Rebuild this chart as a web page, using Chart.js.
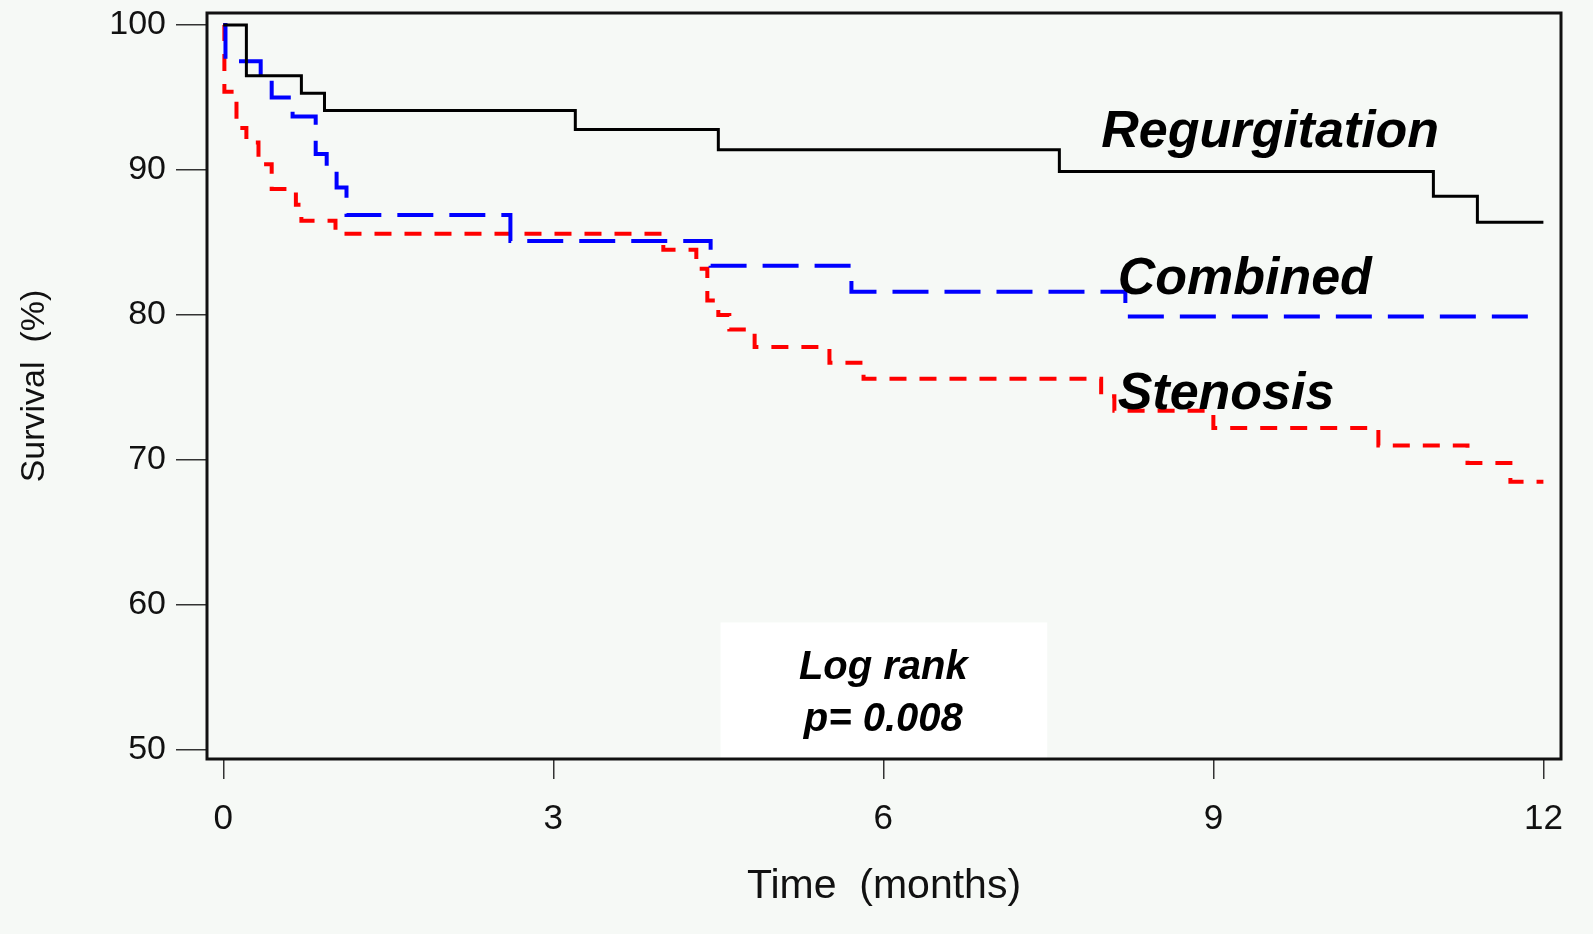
<!DOCTYPE html>
<html>
<head>
<meta charset="utf-8">
<script src="https://cdn.jsdelivr.net/npm/chart.js@4.4.1/dist/chart.umd.min.js"></script>
<style>
    html, body { margin: 0; padding: 0; background: #f6f9f6; }
    #wrap { width: 1593px; height: 934px; }
</style>
</head>
<body>
<div id="wrap"><canvas id="kmChart" width="1593" height="934"></canvas></div>
<script>
// Kaplan-Meier survival (time in months, survival in %)
const regTime = [0, 0.21, 0.71, 0.92, 3.2, 4.5, 7.6, 11.0, 11.4, 12];
const regSurv = [100, 96.5, 95.3, 94.1, 92.8, 91.4, 89.9, 88.2, 86.4, 86.4];

const combTime = [0, 0.02, 0.34, 0.44, 0.63, 0.84, 0.94, 1.03, 1.12, 2.61, 4.43, 5.71, 8.2, 12];
const combSurv = [100, 97.5, 96.3, 95.0, 93.7, 91.1, 90.0, 88.8, 86.9, 85.1, 83.4, 81.6, 79.9, 79.9];

const stenTime = [0, 0.01, 0.12, 0.21, 0.32, 0.44, 0.66, 0.71, 1.02, 4.0, 4.3, 4.4, 4.5, 4.6, 4.83, 5.51, 5.82, 7.98, 8.1, 9.0, 10.5, 11.31, 11.7, 12];
const stenSurv = [100, 95.4, 92.9, 91.9, 90.4, 88.7, 87.6, 86.5, 85.6, 84.5, 83.2, 81.0, 80.0, 79.0, 77.8, 76.7, 75.6, 74.4, 73.4, 72.2, 71.0, 69.8, 68.5, 68.5];

const xTickValues = [0, 3, 6, 9, 12];
const yTickValues = [50, 60, 70, 80, 90, 100];

const curveLabels = [
    { text: 'Regurgitation', x: 7.98, y: 91.6 },
    { text: 'Combined', x: 8.13, y: 81.45 },
    { text: 'Stenosis', x: 8.13, y: 73.5 }
];

const FONT = '"Liberation Sans", Arial, sans-serif';

function toPoints(xs, ys) {
    return xs.map((x, i) => ({ x: x, y: ys[i] }));
}

const kmPlugin = {
    id: 'kmExtras',
    beforeDraw(chart) {
        const ctx = chart.ctx;
        ctx.save();
        ctx.fillStyle = '#f6f9f6';
        ctx.fillRect(0, 0, chart.width, chart.height);
        ctx.restore();
    },
    beforeDatasetsDraw(chart) {
        const ctx = chart.ctx;
        const xs = chart.scales.x;
        const ys = chart.scales.y;
        // white box behind the log rank text
        const left = xs.getPixelForValue(4.52);
        const right = xs.getPixelForValue(7.49);
        const top = ys.getPixelForValue(58.8);
        const bottom = chart.chartArea.bottom;
        ctx.save();
        ctx.fillStyle = '#ffffff';
        ctx.fillRect(left, top, right - left, bottom - top);
        ctx.restore();
    },
    afterDatasetsDraw(chart) {
        const ctx = chart.ctx;
        const xs = chart.scales.x;
        const ys = chart.scales.y;
        const a = chart.chartArea;
        ctx.save();
        ctx.fillStyle = '#000';
        ctx.textBaseline = 'alphabetic';
        ctx.font = 'italic bold 52px ' + FONT;
        ctx.textAlign = 'left';
        curveLabels.forEach(l => {
            ctx.fillText(l.text, xs.getPixelForValue(l.x), ys.getPixelForValue(l.y));
        });
        ctx.font = 'italic bold 40px ' + FONT;
        ctx.textAlign = 'center';
        const cx = xs.getPixelForValue(6.0);
        ctx.fillText('Log rank', cx, 679);
        ctx.fillText('p= 0.008', cx, 731);

        // plot frame
        ctx.strokeStyle = '#111';
        ctx.lineWidth = 3;
        ctx.strokeRect(a.left, a.top, a.right - a.left, a.bottom - a.top);
        ctx.restore();
    }
};

const kmConfig = {
    type: 'line',
    data: {
        datasets: [{
            label: 'Regurgitation',
            data: toPoints(regTime, regSurv),
            borderColor: '#000000',
            borderWidth: 3,
            stepped: true,
            pointRadius: 0,
            fill: false
        }, {
            label: 'Combined',
            data: toPoints(combTime, combSurv),
            borderColor: '#0000ff',
            borderWidth: 4,
            borderDash: [36, 16],
            stepped: true,
            pointRadius: 0,
            fill: false
        }, {
            label: 'Stenosis',
            data: toPoints(stenTime, stenSurv),
            borderColor: '#ff0000',
            borderWidth: 4,
            borderDash: [17, 13],
            stepped: true,
            pointRadius: 0,
            fill: false
        }]
    },
    options: {
        responsive: false,
        animation: false,
        layout: {
            padding: { top: 13, right: 32, left: 0, bottom: 0 }
        },
        plugins: {
            legend: { display: false },
            tooltip: { enabled: false }
        },
        scales: {
            x: {
                type: 'linear',
                min: -0.148,
                max: 12.16,
                afterBuildTicks: scale => {
                    scale.ticks = xTickValues.map(v => ({ value: v }));
                },
                afterFit: scale => {
                    scale.height = 175;
                    scale.paddingLeft = 0;
                    scale.paddingRight = 0;
                },
                grid: {
                    drawOnChartArea: false,
                    drawTicks: true,
                    tickLength: 20,
                    color: '#333',
                    lineWidth: 1.5
                },
                border: { display: false },
                ticks: {
                    autoSkip: false,
                    maxRotation: 0,
                    padding: 19,
                    color: '#111',
                    font: { size: 35, family: FONT }
                },
                title: {
                    display: true,
                    text: 'Time  (months)',
                    color: '#111',
                    font: { size: 41, family: FONT },
                    padding: { top: 0, bottom: 23 }
                }
            },
            y: {
                min: 49.38,
                max: 100.83,
                afterBuildTicks: scale => {
                    scale.ticks = yTickValues.map(v => ({ value: v }));
                },
                afterFit: scale => {
                    scale.width = 207;
                    scale.paddingTop = 0;
                    scale.paddingBottom = 0;
                },
                grid: {
                    drawOnChartArea: false,
                    drawTicks: true,
                    tickLength: 31,
                    color: '#333',
                    lineWidth: 1.5
                },
                border: { display: false },
                ticks: {
                    padding: 10,
                    color: '#111',
                    font: { size: 34, family: FONT }
                },
                title: {
                    display: true,
                    text: 'Survival  (%)',
                    color: '#111',
                    font: { size: 34, family: FONT },
                    padding: { top: 14, bottom: 0 }
                }
            }
        }
    },
    plugins: [kmPlugin]
};

new Chart(document.getElementById('kmChart'), kmConfig);
</script>
</body>
</html>
